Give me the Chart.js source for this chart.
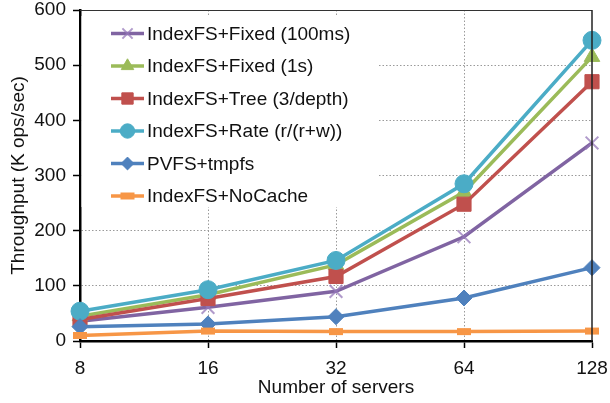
<!DOCTYPE html>
<html>
<head>
<meta charset="utf-8">
<script src="https://cdn.jsdelivr.net/npm/chart.js@4/dist/chart.umd.min.js"></script>
<style>
  html, body { margin: 0; padding: 0; background: #fff; }
  #wrap { width: 610px; height: 403px; }
</style>
</head>
<body>
<div id="wrap"><canvas id="c" width="610" height="403"></canvas></div>
<script>
// Metadata throughput as the number of servers grows
const servers = ['8', '16', '32', '64', '128'];

const fixed100ms = [36, 61, 90, 189, 359];
const fixed1s    = [45, 84, 138, 270, 515];
const treeDepth  = [39, 77, 117, 248, 470];
const rateRW     = [54, 93, 146, 285, 545];
const pvfsTmpfs  = [26, 31, 44, 78, 133];
const noCache    = [10, 18, 17, 17, 18];

const seriesNames = [
  'IndexFS+Fixed (100ms)',
  'IndexFS+Fixed (1s)',
  'IndexFS+Tree (3/depth)',
  'IndexFS+Rate (r/(r+w))',
  'PVFS+tmpfs',
  'IndexFS+NoCache'
];

const yTicks = [0, 100, 200, 300, 400, 500, 600];

const FONT = '"Liberation Sans", Arial, Helvetica, sans-serif';

function series(i, data, color, style, extra) {
  return Object.assign({
    label: seriesNames[i],
    data: data,
    borderColor: color,
    backgroundColor: color,
    pointBackgroundColor: color,
    pointBorderColor: color,
    borderWidth: 3.5,
    pointStyle: style,
    pointRadius: 8,
    pointHoverRadius: 8,
    pointBorderWidth: 1,
    tension: 0,
    fill: false,
    clip: false,
    order: seriesNames.length - 1 - i
  }, extra || {});
}

const datasets = [
  series(0, fixed100ms, '#8064a2', 'crossRot', { pointBorderColor: 'rgba(150,120,185,0.75)', pointBorderWidth: 2, pointRadius: 9 }),
  series(1, fixed1s, '#9bbb59', 'triangle', { pointRadius: 9 }),
  series(2, treeDepth, '#c0504d', 'rect', { pointRadius: 10 }),
  series(3, rateRW, '#4bacc6', 'circle', { pointRadius: 9 }),
  series(4, pvfsTmpfs, '#4f81bd', 'rectRot', { pointRadius: 8 }),
  series(5, noCache, '#f79646', 'line', { pointRadius: 7, pointBorderWidth: 7 })
];

// Legend box inside the plot area, drawn from the datasets' own styles
const legendPlugin = {
  id: 'insideLegend',
  beforeDatasetsDraw(chart) {
    const ctx = chart.ctx;
    const area = chart.chartArea;
    ctx.save();
    ctx.fillStyle = '#fff';
    ctx.fillRect(area.left + 1.5, 16, 297, 191);
    chart.data.datasets.forEach((ds, i) => {
      const y = 33.5 + i * 32.5;
      ctx.strokeStyle = ds.borderColor;
      ctx.lineWidth = 3.5;
      ctx.setLineDash([]);
      ctx.beginPath();
      ctx.moveTo(111, y);
      ctx.lineTo(144, y);
      ctx.stroke();
      ctx.fillStyle = ds.pointBackgroundColor;
      ctx.strokeStyle = ds.pointBorderColor;
      ctx.lineWidth = ds.pointBorderWidth;
      const r = ds.pointStyle === 'line' ? 7 : ds.pointRadius * 0.8;
      Chart.helpers.drawPoint(ctx, {
        pointStyle: ds.pointStyle,
        radius: r,
        rotation: 0,
        borderWidth: ds.pointBorderWidth
      }, 127.5, y);
      ctx.fillStyle = '#111';
      ctx.font = '19px ' + FONT;
      ctx.textBaseline = 'middle';
      ctx.textAlign = 'left';
      ctx.fillText(ds.label, 147, y + 1);
    });
    ctx.restore();
  },
  afterDraw(chart) {
    // top and right frame of the plot
    const ctx = chart.ctx;
    const a = chart.chartArea;
    ctx.save();
    ctx.setLineDash([]);
    ctx.strokeStyle = '#333';
    ctx.lineWidth = 1;
    ctx.beginPath();
    ctx.moveTo(a.left, a.top + 0.5);
    ctx.lineTo(a.right, a.top + 0.5);
    ctx.stroke();
    ctx.strokeStyle = '#222';
    ctx.lineWidth = 1.5;
    ctx.beginPath();
    ctx.moveTo(a.right, a.top);
    ctx.lineTo(a.right, a.bottom);
    ctx.stroke();
    ctx.restore();
  }
};

new Chart(document.getElementById('c'), {
  type: 'line',
  data: { labels: servers, datasets: datasets },
  plugins: [legendPlugin],
  options: {
    responsive: false,
    animation: false,
    devicePixelRatio: 1,
    layout: { autoPadding: false, padding: { top: 10, right: 18, left: 0, bottom: 0 } },
    plugins: { legend: { display: false }, tooltip: { enabled: false } },
    scales: {
      x: {
        type: 'category',
        offset: false,
        afterFit(scale) {
          scale.height = 62;
          scale.paddingLeft = 0;
          scale.paddingRight = 0;
        },
        grid: {
          color: (c) => (c.index === 0 || c.index === servers.length - 1) ? 'rgba(0,0,0,0)' : '#9a9a9a',
          lineWidth: 1,
          drawTicks: true,
          tickLength: 7,
          tickColor: '#000',
          tickWidth: 1.5,
          tickBorderDash: []
        },
        border: { display: true, color: '#000', width: 2.5, dash: [1.5, 2] },
        ticks: {
          color: '#111',
          font: { family: FONT, size: 19 },
          padding: 9,
          maxRotation: 0,
          autoSkip: false
        },
        title: {
          display: true,
          text: 'Number of servers',
          color: '#111',
          font: { family: FONT, size: 19 },
          padding: { top: 0, bottom: 4 }
        }
      },
      y: {
        min: 0,
        max: 600,
        afterFit(scale) {
          scale.width = 80;
          scale.paddingTop = 0;
          scale.paddingBottom = 0;
        },
        afterBuildTicks(scale) { scale.ticks = yTicks.map(v => ({ value: v })); },
        grid: {
          color: (c) => (c.tick && (c.tick.value === 0 || c.tick.value === 600)) ? 'rgba(0,0,0,0)' : '#9a9a9a',
          lineWidth: 1,
          drawTicks: true,
          tickLength: 7,
          tickColor: '#000',
          tickWidth: 1.5,
          tickBorderDash: []
        },
        border: { display: true, color: '#000', width: 2.5, dash: [1.5, 2] },
        ticks: {
          color: '#111',
          font: { family: FONT, size: 19 },
          padding: 7
        },
        title: {
          display: true,
          text: 'Throughput (K ops/sec)',
          color: '#111',
          font: { family: FONT, size: 19 },
          padding: { top: 7, bottom: 0 }
        }
      }
    }
  }
});
</script>
</body>
</html>
